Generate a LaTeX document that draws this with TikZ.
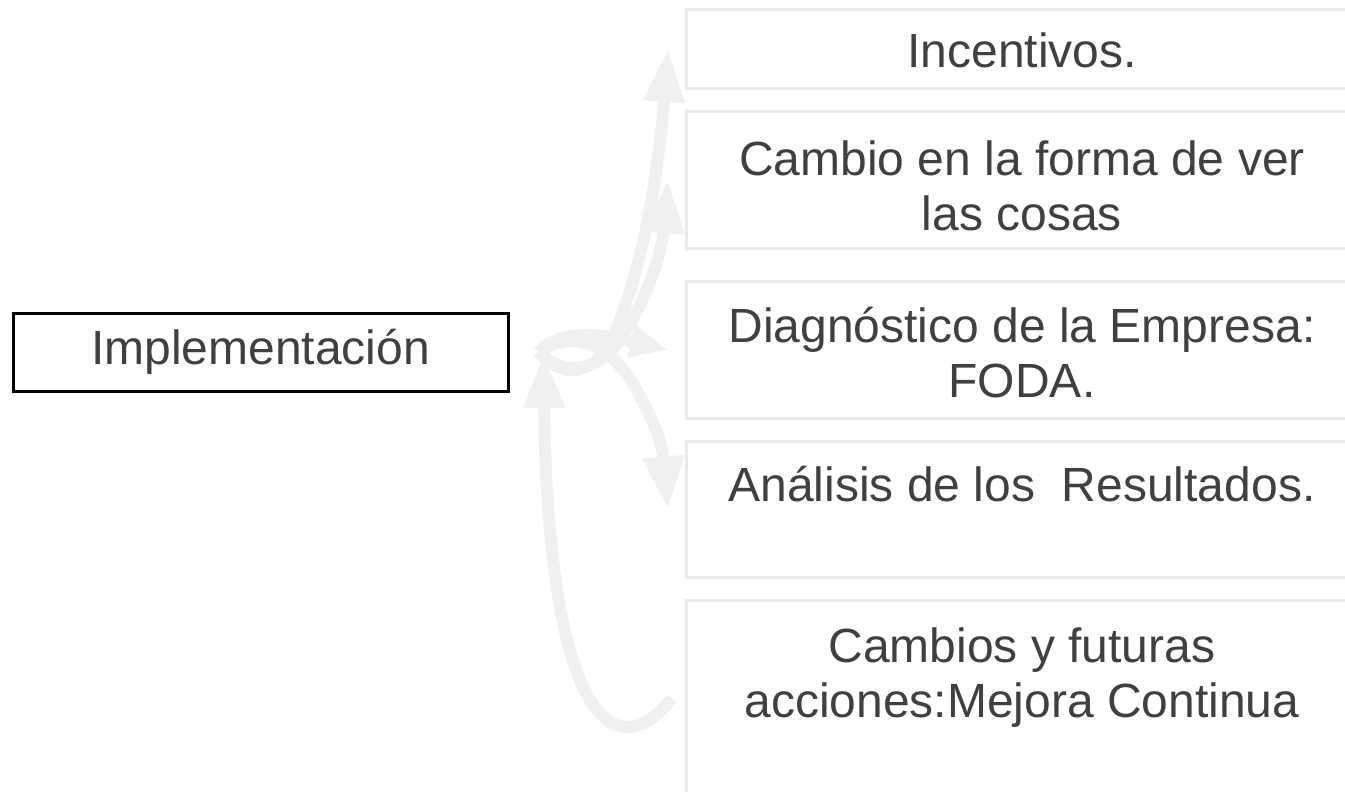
\documentclass[tikz,border=0pt]{standalone}
\usepackage{fontspec}
\setmainfont{Liberation Sans}
\usetikzlibrary{arrows.meta}
\definecolor{arrowgray}{HTML}{F0F0F0}
\definecolor{boxgray}{HTML}{EAEAEA}
\definecolor{textgray}{HTML}{404040}
\tikzset{
  lbl/.style={font=\fontsize{48}{55}\selectfont, text=textgray, align=center, inner sep=0pt},
  mainbox/.style={draw=black, line width=3pt, minimum width=495pt, minimum height=78pt, inner sep=0pt},
  sidebox/.style={draw=boxgray, line width=3pt, anchor=north west, minimum width=680pt, inner sep=0pt},
  bigarrow/.style={draw=arrowgray, line width=12pt, -{Triangle[width=39pt,length=53pt]}},
  smallarrow/.style={draw=arrowgray, line width=12pt, -{Triangle[width=31pt,length=38pt]}}
}
\begin{document}
\begin{tikzpicture}[x=1pt,y=-1pt]
\useasboundingbox (0,0) rectangle (1345,792);
% main box
\node[mainbox, lbl] (impl) at (260.5,352) {Implementación};
% side boxes
\node[sidebox, minimum height=79pt] (b1) at (685,8) {};
\node[sidebox, minimum height=137pt] (b2) at (685,110) {};
\node[sidebox, minimum height=137pt] (b3) at (685,280) {};
\node[sidebox, minimum height=136pt] (b4) at (685,440) {};
\node[sidebox, minimum height=196pt] (b5) at (685,599) {};
% texts
\node[lbl] (t1) at (1022,50) {Incentivos.};
\node[lbl] (t2) at (1022,186) {Cambio en la forma de ver\\las cosas};
\node[lbl] (t3) at (1022,353) {Diagnóstico de la Empresa:\\FODA.};
\node[lbl] (t4) at (1022,484) {Análisis de los\ \ Resultados.};
\node[lbl] (t5) at (1022,678) {Cambios y futuras\\acciones:Mejora Continua};
% hub and arrow ends
\coordinate (hub) at ([xshift=29pt]impl.east);
\coordinate (e1) at ([xshift=-17pt]b1.west);
\coordinate (e2) at ([xshift=-17pt]b2.west);
\coordinate (e3) at ([xshift=-17pt]b3.west);
\coordinate (e4) at ([xshift=-17pt]b4.west);
\coordinate (s5) at ([xshift=-13pt]b5.west);
\coordinate (e5) at ([xshift=5pt,yshift=-3pt]hub);
% arrows
\path[bigarrow] (hub) .. controls (562,380) and (595,376) .. (612,338) .. controls (640,280) and (658,180) .. (e1);
\path[bigarrow] (hub) .. controls (565,378) and (602,372) .. (625,332) .. controls (650,292) and (662,250) .. (e2);
\path[smallarrow] (hub) .. controls (562,328) and (600,334) .. (e3);
\path[bigarrow] (hub) .. controls (578,326) and (612,350) .. (632,382) .. controls (650,412) and (662,440) .. (e4);
\path[bigarrow] (s5) .. controls (615,770) and (548,720) .. (e5);
\end{tikzpicture}
\end{document}
